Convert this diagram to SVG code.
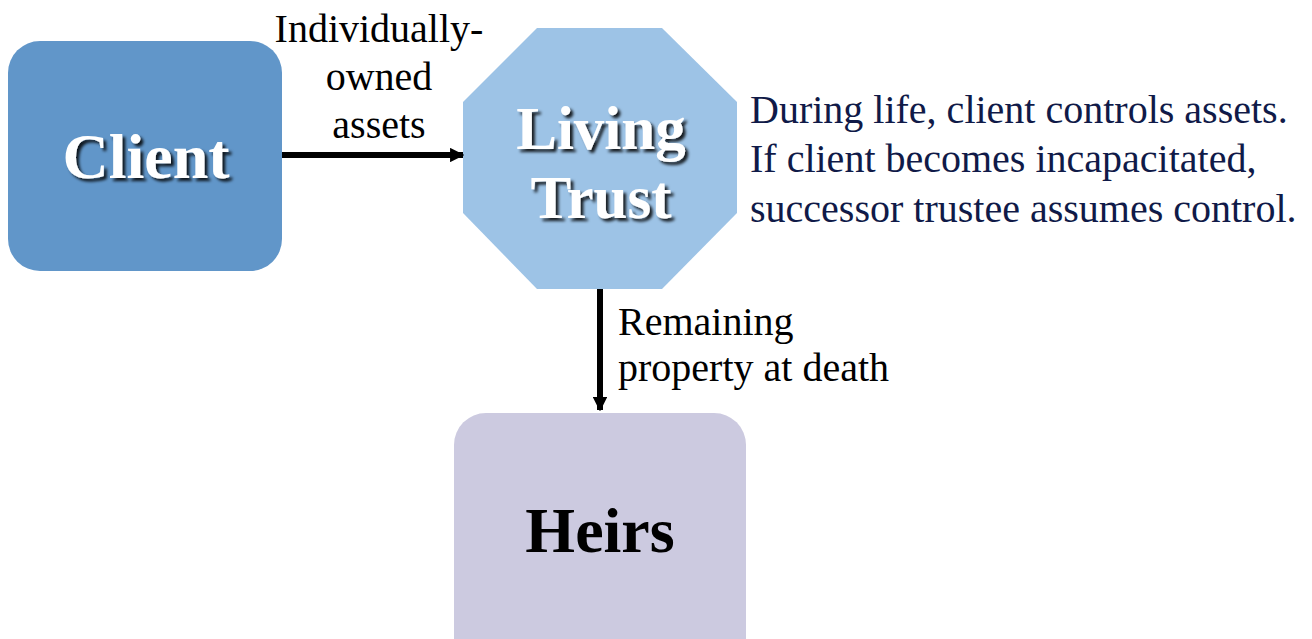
<svg xmlns="http://www.w3.org/2000/svg" width="1312" height="639" viewBox="0 0 1312 639">
<defs>
<filter id="sh" x="-20%" y="-20%" width="140%" height="140%"><feDropShadow dx="3" dy="3" stdDeviation="1.5" flood-color="#000" flood-opacity="0.85"/></filter>
<marker id="ah" viewBox="0 0 10 10" refX="9" refY="5" markerWidth="2.4" markerHeight="2.4" orient="auto" markerUnits="strokeWidth"><path d="M0,0 L10,5 L0,10 z" fill="#000"/></marker>
</defs>
<style>
.title{font-family:"Liberation Serif",serif;font-weight:bold;text-anchor:middle}
.w{fill:#fff}
.lbl{font-family:"Liberation Serif",serif;font-size:40px;fill:#000}
.note{font-family:"Liberation Serif",serif;font-size:40px;fill:#101A48}
.conn{stroke:#000;stroke-width:6;fill:none}
</style>
<rect width="1312" height="639" fill="#fff"/>
<g id="client">
<rect x="8" y="41" width="274" height="230" rx="32" fill="#6196C9"/>
<text class="title w" x="146" y="178" font-size="64" filter="url(#sh)">Client</text>
</g>
<g id="living-trust">
<polygon points="537,28 662,28 737,102 737,213 662,289 537,289 463,213 463,102" fill="#9DC3E6"/>
<text class="title w" x="601" y="149" font-size="61" filter="url(#sh)">Living</text>
<text class="title w" x="601" y="218" font-size="61" filter="url(#sh)">Trust</text>
</g>
<g id="heirs">
<rect x="454" y="413" width="292" height="260" rx="32" fill="#CCCAE0"/>
<text class="title" x="600" y="552" font-size="64" fill="#000">Heirs</text>
</g>
<g id="connectors">
<line class="conn" x1="282" y1="155" x2="463" y2="155" marker-end="url(#ah)"/>
<line class="conn" x1="600" y1="289" x2="600" y2="410" marker-end="url(#ah)"/>
</g>
<g id="labels">
<text class="lbl" x="379" y="42" text-anchor="middle">Individually-</text>
<text class="lbl" x="379" y="90" text-anchor="middle">owned</text>
<text class="lbl" x="379" y="138" text-anchor="middle">assets</text>
<text class="lbl" x="618" y="335" font-size="36">Remaining</text>
<text class="lbl" x="618" y="381" font-size="36">property at death</text>
<text class="note" x="750" y="123">During life, client controls assets.</text>
<text class="note" x="750" y="172">If client becomes incapacitated,</text>
<text class="note" x="750" y="222">successor trustee assumes control.</text>
</g>
</svg>
